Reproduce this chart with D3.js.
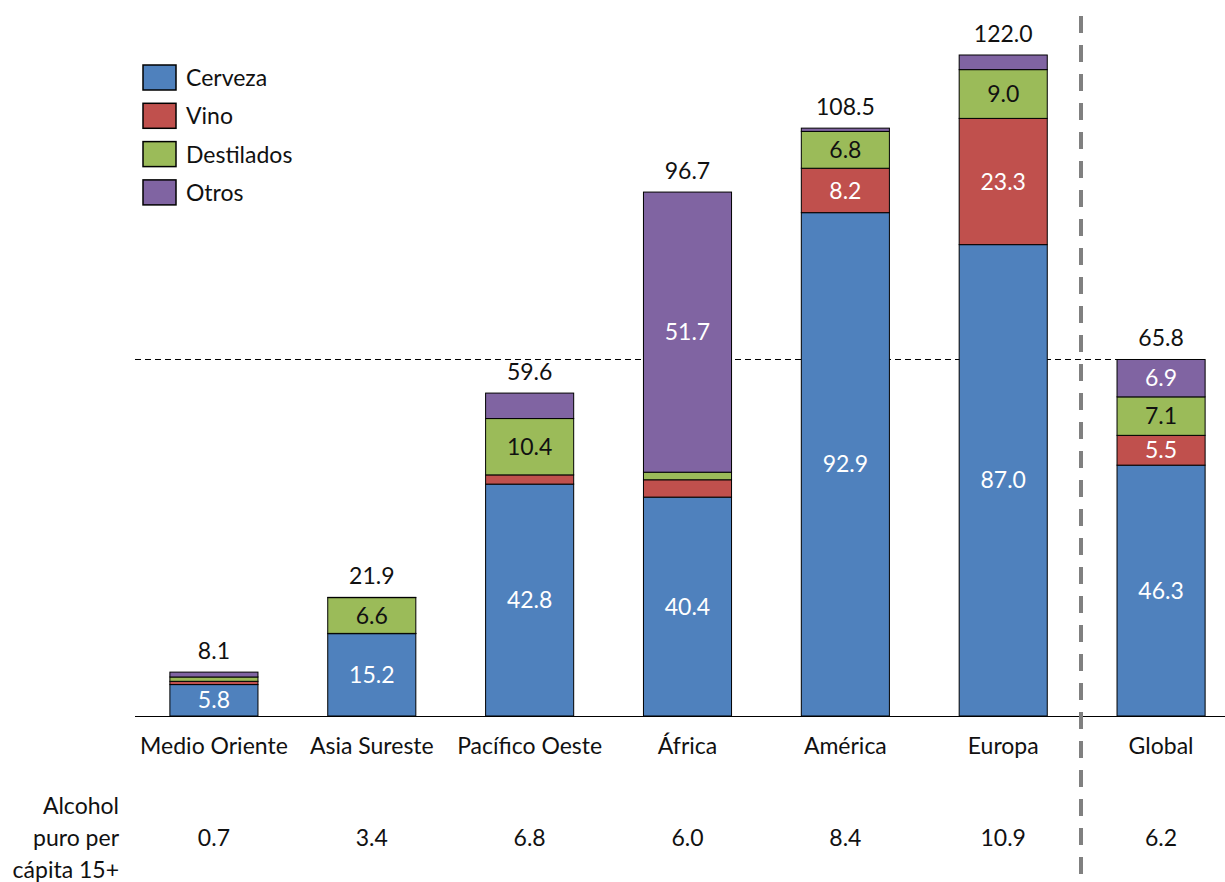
<!DOCTYPE html>
<html><head><meta charset="utf-8">
<script src="https://cdn.jsdelivr.net/npm/d3@7"></script>
<style>body{margin:0;background:#fff}svg{display:block}text{font-family:Lato,"Open Sans",sans-serif}</style>
</head><body><svg id="c" width="1225" height="882"></svg>
<script>
const categories = ["Medio Oriente","Asia Sureste","Pacífico Oeste","África","América","Europa","Global"];
const cerveza    = [5.8, 15.2, 42.8, 40.4, 92.9, 87.0, 46.3];
const vino       = [0.6, 0.05, 1.7, 3.2, 8.2, 23.3, 5.5];
const destilados = [0.8, 6.6, 10.4, 1.4, 6.8, 9.0, 7.1];
const otros      = [0.9, 0.05, 4.7, 51.7, 0.6, 2.7, 6.9];
const totals     = [8.1, 21.9, 59.6, 96.7, 108.5, 122.0, 65.8];
const perCapita  = ["0.7","3.4","6.8","6.0","8.4","10.9","6.2"];
const seriesNames = ["Cerveza","Vino","Destilados","Otros"];
const seriesColors = ["#4F81BD","#C0504D","#9BBB59","#8064A2"];
const labelColors = ["#fff","#fff","#111","#fff"];
const perCapitaLabel = ["Alcohol","puro per","cápita 15+"];
const FS = 23;

const svg = d3.select("#c");
const x = d3.scaleBand().domain(categories).range([135, 1240]).paddingInner(0.442).paddingOuter(0.221);
const y = d3.scaleLinear().domain([0, 122]).range([716, 55]);

const rows = categories.map((c,i)=>({cat:c, Cerveza:cerveza[i], Vino:vino[i], Destilados:destilados[i], Otros:otros[i]}));
const stack = d3.stack().keys(seriesNames)(rows);

svg.append("line").attr("x1",135).attr("x2",x("Global")).attr("y1",y(totals[6])).attr("y2",y(totals[6]))
  .attr("stroke","#000").attr("stroke-width",1).attr("stroke-dasharray","6,4");

stack.forEach((layer,k)=>{
  const g = svg.append("g");
  g.selectAll("rect").data(layer).join("rect")
    .attr("x",d=>x(d.data.cat)).attr("width",x.bandwidth())
    .attr("y",d=>y(d[1])).attr("height",d=>y(d[0])-y(d[1]))
    .attr("fill",seriesColors[k]).attr("stroke","#000").attr("stroke-width",1);
  g.selectAll("text").data(layer.filter(d=>d[1]-d[0]>=5)).join("text")
    .attr("x",d=>x(d.data.cat)+x.bandwidth()/2).attr("y",d=>y((d[0]+d[1])/2))
    .attr("dy","0.35em").attr("text-anchor","middle").attr("font-size",FS)
    .attr("fill",labelColors[k]).text(d=>(d[1]-d[0]).toFixed(1));
});

svg.selectAll("text.tot").data(categories).join("text").attr("class","tot")
  .attr("x",d=>x(d)+x.bandwidth()/2).attr("y",(d,i)=>y(totals[i])-13)
  .attr("text-anchor","middle").attr("font-size",FS).attr("fill","#111")
  .text((d,i)=>totals[i].toFixed(1));

const ax = svg.append("g").attr("transform",`translate(0,${y(0)})`)
  .call(d3.axisBottom(x).tickSize(0).tickPadding(22));
ax.select(".domain").attr("d","M135,0.5H1225").attr("stroke","#000");
ax.selectAll("text").attr("font-size",FS).attr("fill","#111").style("font-family","Lato,'Open Sans',sans-serif");

svg.selectAll("text.pc").data(categories).join("text").attr("class","pc")
  .attr("x",d=>x(d)+x.bandwidth()/2).attr("y",838).attr("dy","0.35em")
  .attr("text-anchor","middle").attr("font-size",FS).attr("fill","#111")
  .text((d,i)=>perCapita[i]);
svg.selectAll("text.pcl").data(perCapitaLabel).join("text").attr("class","pcl")
  .attr("x",119).attr("y",(d,i)=>806+i*32).attr("dy","0.35em")
  .attr("text-anchor","end").attr("font-size",FS).attr("fill","#111").text(d=>d);

svg.append("line").attr("x1",1081).attr("x2",1081).attr("y1",16).attr("y2",882)
  .attr("stroke","#808080").attr("stroke-width",4).attr("stroke-dasharray","17,12");

const lg = svg.append("g");
seriesNames.forEach((n,i)=>{
  lg.append("rect").attr("x",143).attr("y",65+i*38.3).attr("width",33).attr("height",25)
    .attr("fill",seriesColors[i]).attr("stroke","#000").attr("stroke-width",1.5);
  lg.append("text").attr("x",186).attr("y",78+i*38.3).attr("dy","0.35em")
    .attr("font-size",FS).attr("fill","#111").text(n);
});
</script></body></html>
